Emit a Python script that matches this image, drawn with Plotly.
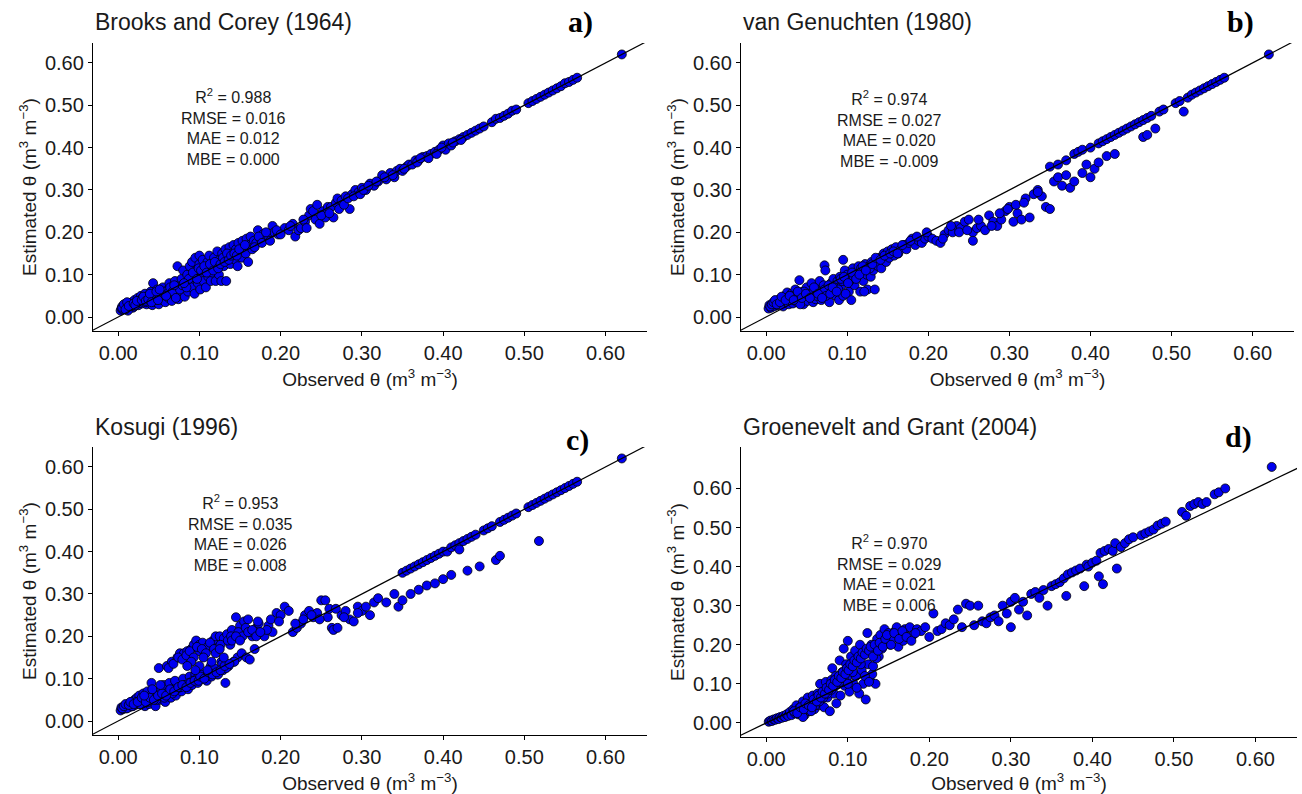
import plotly.graph_objects as go

# ---------------- data ----------------
panel_titles = ["Brooks and Corey (1964)", "van Genuchten (1980)",
                "Kosugi (1996)", "Groenevelt and Grant (2004)"]
panel_tags = ["a)", "b)", "c)", "d)"]
r2_values = ["0.988", "0.974", "0.953", "0.970"]
rmse_values = ["0.016", "0.027", "0.035", "0.029"]
mae_values = ["0.012", "0.020", "0.026", "0.021"]
mbe_values = ["0.000", "-0.009", "0.008", "0.006"]
tick_values = [0.0, 0.1, 0.2, 0.3, 0.4, 0.5, 0.6]
tick_labels = ["0.00", "0.10", "0.20", "0.30", "0.40", "0.50", "0.60"]

# a) Brooks and Corey
bc_obs = [0.003, 0.004, 0.005, 0.006, 0.008, 0.010, 0.012, 0.014, 0.015, 0.017,
          0.018, 0.020, 0.022, 0.024, 0.025, 0.027, 0.028, 0.030, 0.032, 0.033,
          0.035, 0.036, 0.038, 0.040, 0.040, 0.042, 0.043, 0.044, 0.046, 0.048,
          0.050, 0.050, 0.052, 0.054, 0.055, 0.057, 0.058, 0.060, 0.062, 0.063,
          0.065, 0.066, 0.068, 0.070, 0.070, 0.072, 0.073, 0.074, 0.075, 0.077,
          0.078, 0.080, 0.080, 0.082, 0.083, 0.085, 0.086, 0.088, 0.089, 0.090,
          0.091, 0.093, 0.094, 0.095, 0.096, 0.098, 0.100, 0.100, 0.101, 0.103,
          0.104, 0.105, 0.107, 0.108, 0.110, 0.111, 0.112, 0.114, 0.115, 0.116,
          0.118, 0.120, 0.121, 0.122, 0.124, 0.125, 0.127, 0.128, 0.130, 0.132,
          0.133, 0.135, 0.137, 0.138, 0.140, 0.142, 0.144, 0.145, 0.147, 0.148,
          0.150, 0.152, 0.153, 0.155, 0.157, 0.158, 0.160, 0.161, 0.163, 0.165,
          0.167, 0.170, 0.172, 0.175, 0.178, 0.180, 0.185, 0.190, 0.192, 0.197,
          0.205, 0.210, 0.215, 0.218, 0.222, 0.225, 0.230, 0.235, 0.237, 0.240,
          0.243, 0.245, 0.248, 0.252, 0.255, 0.258, 0.262, 0.265, 0.268, 0.270,
          0.275, 0.280, 0.285, 0.288, 0.292, 0.296, 0.300, 0.305, 0.310, 0.315,
          0.320, 0.325, 0.330, 0.335, 0.340, 0.343, 0.347, 0.350, 0.355, 0.358,
          0.362, 0.366, 0.370, 0.375, 0.380, 0.385, 0.390, 0.395, 0.400, 0.403,
          0.407, 0.410, 0.415, 0.420, 0.425, 0.430, 0.435, 0.440, 0.445, 0.450,
          0.460, 0.465, 0.470, 0.475, 0.480, 0.485, 0.490, 0.505, 0.510, 0.515,
          0.520, 0.525, 0.530, 0.535, 0.540, 0.545, 0.550, 0.555, 0.560, 0.565,
          0.620, 0.008, 0.012, 0.016, 0.020, 0.026, 0.030, 0.034, 0.038, 0.045,
          0.053, 0.056, 0.061, 0.064, 0.067, 0.071, 0.076, 0.079, 0.084, 0.087,
          0.092, 0.097, 0.099, 0.102, 0.106, 0.109, 0.113, 0.117, 0.119, 0.123,
          0.126, 0.129, 0.131, 0.134, 0.136, 0.139, 0.143, 0.146, 0.149, 0.156,
          0.005, 0.007, 0.009, 0.011, 0.013, 0.019, 0.021, 0.023, 0.029, 0.031,
          0.034, 0.037, 0.039, 0.041, 0.047, 0.049, 0.051, 0.059, 0.069, 0.081,
          0.168, 0.173, 0.177, 0.182, 0.187, 0.195, 0.200, 0.212, 0.228, 0.232,
          0.250, 0.260, 0.272, 0.278, 0.283, 0.290, 0.298, 0.302, 0.308, 0.318,
          0.328, 0.338, 0.352, 0.368, 0.372, 0.382, 0.392, 0.398, 0.412, 0.422]
bc_est = [0.015, 0.020, 0.025, 0.018, 0.022, 0.028, 0.020, 0.030, 0.025, 0.035,
          0.022, 0.040, 0.030, 0.045, 0.028, 0.038, 0.050, 0.032, 0.042, 0.055,
          0.030, 0.048, 0.038, 0.060, 0.045, 0.028, 0.080, 0.052, 0.035, 0.065,
          0.045, 0.030, 0.058, 0.040, 0.070, 0.050, 0.035, 0.062, 0.045, 0.080,
          0.055, 0.038, 0.070, 0.050, 0.085, 0.060, 0.120, 0.042, 0.075, 0.055,
          0.090, 0.065, 0.110, 0.048, 0.080, 0.100, 0.060, 0.120, 0.085, 0.070,
          0.130, 0.095, 0.055, 0.140, 0.110, 0.080, 0.125, 0.145, 0.065, 0.100,
          0.135, 0.085, 0.115, 0.070, 0.130, 0.095, 0.145, 0.085, 0.120, 0.105,
          0.140, 0.085, 0.125, 0.155, 0.100, 0.135, 0.085, 0.150, 0.120, 0.160,
          0.085, 0.140, 0.165, 0.125, 0.150, 0.170, 0.135, 0.160, 0.120, 0.175,
          0.155, 0.140, 0.180, 0.165, 0.150, 0.185, 0.130, 0.170, 0.190, 0.160,
          0.180, 0.175, 0.205, 0.185, 0.195, 0.190, 0.190, 0.215, 0.200, 0.195,
          0.210, 0.205, 0.220, 0.190, 0.205, 0.210, 0.225, 0.240, 0.255, 0.250,
          0.230, 0.265, 0.220, 0.250, 0.235, 0.260, 0.260, 0.235, 0.270, 0.280,
          0.275, 0.285, 0.255, 0.290, 0.300, 0.295, 0.305, 0.300, 0.315, 0.310,
          0.320, 0.335, 0.325, 0.340, 0.330, 0.345, 0.350, 0.345, 0.355, 0.360,
          0.360, 0.370, 0.370, 0.378, 0.380, 0.385, 0.390, 0.395, 0.405, 0.395,
          0.410, 0.405, 0.415, 0.420, 0.425, 0.430, 0.435, 0.440, 0.445, 0.450,
          0.460, 0.468, 0.470, 0.475, 0.480, 0.487, 0.490, 0.505, 0.510, 0.515,
          0.520, 0.525, 0.530, 0.535, 0.540, 0.545, 0.552, 0.555, 0.560, 0.565,
          0.620, 0.030, 0.015, 0.027, 0.025, 0.033, 0.045, 0.035, 0.050, 0.040,
          0.050, 0.060, 0.055, 0.070, 0.060, 0.045, 0.065, 0.075, 0.070, 0.090,
          0.105, 0.090, 0.115, 0.110, 0.120, 0.105, 0.125, 0.110, 0.130, 0.115,
          0.125, 0.140, 0.130, 0.150, 0.135, 0.145, 0.150, 0.145, 0.160, 0.170,
          0.022, 0.030, 0.018, 0.035, 0.026, 0.032, 0.028, 0.038, 0.040, 0.048,
          0.038, 0.042, 0.055, 0.035, 0.060, 0.040, 0.065, 0.050, 0.075, 0.080,
          0.165, 0.190, 0.175, 0.200, 0.180, 0.205, 0.195, 0.215, 0.230, 0.210,
          0.240, 0.245, 0.255, 0.265, 0.280, 0.285, 0.290, 0.300, 0.310, 0.320,
          0.330, 0.335, 0.350, 0.365, 0.375, 0.375, 0.385, 0.400, 0.412, 0.418]

# b) van Genuchten
vg_obs = [0.003, 0.004, 0.006, 0.008, 0.010, 0.012, 0.014, 0.016, 0.018, 0.020,
          0.021, 0.023, 0.025, 0.026, 0.028, 0.030, 0.031, 0.033, 0.035, 0.036,
          0.038, 0.040, 0.041, 0.043, 0.045, 0.046, 0.048, 0.050, 0.051, 0.053,
          0.055, 0.056, 0.058, 0.060, 0.061, 0.063, 0.065, 0.066, 0.068, 0.070,
          0.071, 0.072, 0.073, 0.075, 0.076, 0.078, 0.080, 0.081, 0.083, 0.085,
          0.086, 0.088, 0.090, 0.091, 0.093, 0.095, 0.095, 0.097, 0.099, 0.100,
          0.102, 0.104, 0.105, 0.107, 0.109, 0.110, 0.112, 0.114, 0.116, 0.118,
          0.120, 0.122, 0.124, 0.125, 0.127, 0.129, 0.130, 0.132, 0.134, 0.136,
          0.138, 0.140, 0.142, 0.145, 0.148, 0.150, 0.152, 0.155, 0.158, 0.160,
          0.163, 0.166, 0.170, 0.173, 0.176, 0.180, 0.184, 0.188, 0.192, 0.196,
          0.200, 0.205, 0.210, 0.215, 0.220, 0.225, 0.230, 0.235, 0.240, 0.245,
          0.250, 0.255, 0.255, 0.260, 0.265, 0.270, 0.275, 0.280, 0.285, 0.290,
          0.295, 0.300, 0.305, 0.310, 0.315, 0.320, 0.325, 0.330, 0.335, 0.340,
          0.345, 0.350, 0.350, 0.355, 0.360, 0.360, 0.365, 0.370, 0.370, 0.375,
          0.380, 0.380, 0.385, 0.390, 0.390, 0.395, 0.400, 0.400, 0.405, 0.410,
          0.410, 0.415, 0.420, 0.420, 0.425, 0.430, 0.430, 0.435, 0.440, 0.445,
          0.450, 0.455, 0.460, 0.465, 0.465, 0.470, 0.470, 0.475, 0.480, 0.485,
          0.490, 0.505, 0.510, 0.515, 0.520, 0.525, 0.530, 0.535, 0.540, 0.545,
          0.550, 0.555, 0.560, 0.565, 0.620, 0.010, 0.015, 0.022, 0.027, 0.032,
          0.037, 0.042, 0.047, 0.052, 0.057, 0.062, 0.067, 0.072, 0.074, 0.079,
          0.084, 0.089, 0.094, 0.098, 0.103, 0.108, 0.113, 0.117, 0.121, 0.128,
          0.005, 0.007, 0.009, 0.011, 0.013, 0.017, 0.019, 0.024, 0.029, 0.034,
          0.039, 0.044, 0.049, 0.054, 0.059, 0.064, 0.069, 0.077, 0.082, 0.087,
          0.092, 0.096, 0.101, 0.106, 0.111, 0.115, 0.119, 0.123, 0.131, 0.135,
          0.141, 0.146, 0.153, 0.157, 0.162, 0.168, 0.178, 0.186, 0.198, 0.218,
          0.228, 0.238, 0.248, 0.262, 0.278, 0.288, 0.298, 0.308, 0.318, 0.335]
vg_est = [0.020, 0.028, 0.022, 0.032, 0.025, 0.035, 0.028, 0.040, 0.030, 0.045,
          0.025, 0.050, 0.035, 0.058, 0.030, 0.042, 0.055, 0.032, 0.048, 0.065,
          0.035, 0.052, 0.087, 0.040, 0.060, 0.030, 0.045, 0.070, 0.038, 0.055,
          0.048, 0.080, 0.035, 0.060, 0.042, 0.068, 0.050, 0.085, 0.040, 0.062,
          0.075, 0.122, 0.110, 0.050, 0.068, 0.035, 0.080, 0.058, 0.090, 0.070,
          0.050, 0.085, 0.040, 0.095, 0.075, 0.135, 0.050, 0.110, 0.085, 0.100,
          0.060, 0.090, 0.040, 0.115, 0.075, 0.105, 0.095, 0.120, 0.060, 0.110,
          0.085, 0.125, 0.100, 0.065, 0.120, 0.095, 0.130, 0.110, 0.065, 0.125,
          0.120, 0.140, 0.115, 0.150, 0.130, 0.155, 0.140, 0.160, 0.145, 0.165,
          0.150, 0.160, 0.170, 0.160, 0.175, 0.185, 0.170, 0.180, 0.175, 0.185,
          0.190, 0.185, 0.180, 0.175, 0.195, 0.205, 0.200, 0.215, 0.210, 0.225,
          0.230, 0.200, 0.180, 0.210, 0.215, 0.205, 0.240, 0.225, 0.215, 0.230,
          0.250, 0.260, 0.225, 0.245, 0.230, 0.280, 0.235, 0.290, 0.300, 0.285,
          0.260, 0.355, 0.255, 0.320, 0.360, 0.330, 0.310, 0.370, 0.335, 0.305,
          0.385, 0.320, 0.390, 0.395, 0.340, 0.360, 0.400, 0.330, 0.350, 0.410,
          0.365, 0.415, 0.420, 0.380, 0.425, 0.430, 0.385, 0.435, 0.440, 0.445,
          0.450, 0.455, 0.460, 0.465, 0.425, 0.470, 0.430, 0.475, 0.445, 0.485,
          0.490, 0.505, 0.510, 0.485, 0.518, 0.525, 0.530, 0.535, 0.540, 0.545,
          0.550, 0.555, 0.560, 0.565, 0.620, 0.030, 0.040, 0.045, 0.045, 0.050,
          0.045, 0.030, 0.060, 0.050, 0.055, 0.050, 0.060, 0.065, 0.050, 0.055,
          0.070, 0.065, 0.085, 0.055, 0.085, 0.095, 0.100, 0.115, 0.060, 0.115,
          0.025, 0.030, 0.035, 0.040, 0.030, 0.035, 0.048, 0.040, 0.050, 0.040,
          0.060, 0.045, 0.055, 0.045, 0.070, 0.055, 0.045, 0.075, 0.070, 0.060,
          0.090, 0.095, 0.080, 0.105, 0.090, 0.100, 0.120, 0.110, 0.125, 0.140,
          0.135, 0.145, 0.150, 0.155, 0.150, 0.170, 0.180, 0.190, 0.200, 0.185,
          0.215, 0.200, 0.205, 0.230, 0.215, 0.245, 0.255, 0.265, 0.270, 0.295]

# c) Kosugi
ko_obs = [0.003, 0.004, 0.006, 0.008, 0.010, 0.012, 0.014, 0.016, 0.018, 0.020,
          0.021, 0.023, 0.025, 0.026, 0.028, 0.030, 0.031, 0.033, 0.035, 0.036,
          0.038, 0.040, 0.041, 0.043, 0.045, 0.046, 0.048, 0.050, 0.051, 0.053,
          0.055, 0.056, 0.058, 0.060, 0.061, 0.063, 0.065, 0.066, 0.068, 0.070,
          0.071, 0.073, 0.075, 0.076, 0.078, 0.080, 0.081, 0.083, 0.085, 0.086,
          0.088, 0.090, 0.091, 0.093, 0.095, 0.096, 0.098, 0.100, 0.100, 0.102,
          0.104, 0.105, 0.107, 0.109, 0.110, 0.112, 0.114, 0.115, 0.117, 0.119,
          0.120, 0.122, 0.124, 0.125, 0.127, 0.129, 0.130, 0.132, 0.134, 0.136,
          0.138, 0.140, 0.142, 0.145, 0.147, 0.150, 0.152, 0.155, 0.158, 0.160,
          0.162, 0.165, 0.168, 0.170, 0.173, 0.176, 0.180, 0.185, 0.190, 0.195,
          0.200, 0.205, 0.210, 0.215, 0.220, 0.225, 0.230, 0.235, 0.240, 0.245,
          0.250, 0.255, 0.258, 0.260, 0.263, 0.265, 0.270, 0.275, 0.280, 0.285,
          0.290, 0.295, 0.300, 0.305, 0.310, 0.315, 0.320, 0.330, 0.340, 0.345,
          0.350, 0.350, 0.355, 0.360, 0.360, 0.365, 0.370, 0.370, 0.375, 0.380,
          0.380, 0.385, 0.390, 0.390, 0.395, 0.400, 0.400, 0.405, 0.410, 0.410,
          0.415, 0.420, 0.420, 0.425, 0.430, 0.430, 0.435, 0.440, 0.445, 0.450,
          0.455, 0.460, 0.465, 0.470, 0.470, 0.475, 0.480, 0.485, 0.490, 0.505,
          0.510, 0.515, 0.518, 0.520, 0.525, 0.530, 0.535, 0.540, 0.545, 0.550,
          0.555, 0.560, 0.565, 0.620, 0.011, 0.017, 0.022, 0.027, 0.032, 0.037,
          0.042, 0.047, 0.052, 0.057, 0.062, 0.067, 0.072, 0.077, 0.082, 0.087,
          0.092, 0.097, 0.103, 0.108, 0.113, 0.118, 0.123, 0.128, 0.133, 0.143,
          0.005, 0.007, 0.009, 0.013, 0.015, 0.019, 0.024, 0.029, 0.034, 0.039,
          0.044, 0.049, 0.054, 0.059, 0.064, 0.069, 0.074, 0.079, 0.084, 0.089,
          0.094, 0.099, 0.101, 0.106, 0.111, 0.116, 0.121, 0.126, 0.131, 0.137,
          0.062, 0.068, 0.074, 0.079, 0.084, 0.088, 0.093, 0.097, 0.103, 0.108,
          0.113, 0.118, 0.126, 0.135, 0.139, 0.148, 0.153, 0.157, 0.163, 0.172,
          0.183, 0.188, 0.198, 0.218, 0.228, 0.238, 0.248, 0.268, 0.278, 0.295,
          0.090, 0.100, 0.105, 0.115, 0.120, 0.125, 0.130, 0.110, 0.095, 0.085,
          0.140, 0.145, 0.150, 0.160, 0.165, 0.170, 0.175, 0.032, 0.042, 0.052]
ko_est = [0.025, 0.032, 0.028, 0.036, 0.030, 0.040, 0.033, 0.045, 0.035, 0.050,
          0.038, 0.055, 0.040, 0.060, 0.042, 0.048, 0.065, 0.035, 0.055, 0.070,
          0.040, 0.060, 0.090, 0.045, 0.065, 0.035, 0.070, 0.125, 0.050, 0.075,
          0.060, 0.085, 0.045, 0.130, 0.065, 0.090, 0.055, 0.140, 0.075, 0.095,
          0.060, 0.150, 0.080, 0.160, 0.070, 0.100, 0.160, 0.085, 0.165, 0.075,
          0.105, 0.170, 0.085, 0.180, 0.110, 0.190, 0.090, 0.180, 0.165, 0.100,
          0.185, 0.110, 0.160, 0.095, 0.175, 0.120, 0.130, 0.105, 0.190, 0.115,
          0.200, 0.110, 0.175, 0.200, 0.140, 0.120, 0.195, 0.090, 0.205, 0.130,
          0.180, 0.215, 0.140, 0.245, 0.150, 0.225, 0.160, 0.235, 0.150, 0.240,
          0.145, 0.200, 0.170, 0.220, 0.230, 0.205, 0.200, 0.225, 0.210, 0.255,
          0.250, 0.270, 0.260, 0.210, 0.220, 0.230, 0.250, 0.260, 0.245, 0.255,
          0.285, 0.285, 0.245, 0.265, 0.220, 0.215, 0.220, 0.250, 0.260, 0.240,
          0.235, 0.270, 0.260, 0.270, 0.250, 0.280, 0.290, 0.280, 0.300, 0.270,
          0.350, 0.285, 0.355, 0.360, 0.300, 0.365, 0.370, 0.310, 0.375, 0.380,
          0.320, 0.385, 0.390, 0.325, 0.395, 0.400, 0.335, 0.400, 0.410, 0.345,
          0.415, 0.420, 0.405, 0.425, 0.430, 0.355, 0.435, 0.440, 0.365, 0.450,
          0.455, 0.460, 0.380, 0.470, 0.390, 0.475, 0.480, 0.485, 0.490, 0.505,
          0.510, 0.515, 0.425, 0.520, 0.525, 0.530, 0.535, 0.540, 0.545, 0.550,
          0.555, 0.560, 0.565, 0.620, 0.030, 0.035, 0.045, 0.040, 0.050, 0.045,
          0.055, 0.050, 0.060, 0.055, 0.070, 0.065, 0.075, 0.080, 0.085, 0.090,
          0.095, 0.100, 0.110, 0.105, 0.120, 0.125, 0.110, 0.135, 0.125, 0.140,
          0.030, 0.035, 0.040, 0.038, 0.045, 0.040, 0.045, 0.055, 0.045, 0.055,
          0.050, 0.060, 0.065, 0.060, 0.075, 0.070, 0.080, 0.085, 0.080, 0.090,
          0.095, 0.095, 0.105, 0.100, 0.115, 0.110, 0.115, 0.120, 0.130, 0.135,
          0.125, 0.135, 0.150, 0.145, 0.155, 0.165, 0.150, 0.175, 0.170, 0.160,
          0.185, 0.170, 0.180, 0.190, 0.200, 0.210, 0.200, 0.220, 0.210, 0.235,
          0.215, 0.240, 0.235, 0.230, 0.240, 0.250, 0.240, 0.265, 0.245, 0.255,
          0.140, 0.130, 0.150, 0.140, 0.160, 0.170, 0.150, 0.120, 0.120, 0.130,
          0.190, 0.200, 0.190, 0.210, 0.215, 0.200, 0.210, 0.060, 0.075, 0.085]

# d) Groenevelt and Grant
gg_obs = [0.003, 0.005, 0.007, 0.009, 0.011, 0.013, 0.015, 0.017, 0.019, 0.021,
          0.023, 0.025, 0.027, 0.029, 0.031, 0.033, 0.035, 0.037, 0.039, 0.041,
          0.043, 0.045, 0.047, 0.049, 0.051, 0.053, 0.055, 0.057, 0.059, 0.061,
          0.063, 0.065, 0.066, 0.068, 0.070, 0.071, 0.073, 0.075, 0.076, 0.078,
          0.080, 0.081, 0.083, 0.085, 0.086, 0.088, 0.090, 0.091, 0.093, 0.095,
          0.096, 0.098, 0.100, 0.100, 0.102, 0.104, 0.105, 0.107, 0.109, 0.110,
          0.112, 0.114, 0.115, 0.117, 0.119, 0.120, 0.122, 0.124, 0.125, 0.127,
          0.129, 0.130, 0.132, 0.134, 0.136, 0.138, 0.140, 0.142, 0.145, 0.147,
          0.150, 0.152, 0.155, 0.158, 0.160, 0.162, 0.165, 0.168, 0.170, 0.173,
          0.176, 0.180, 0.185, 0.190, 0.195, 0.200, 0.205, 0.210, 0.215, 0.220,
          0.225, 0.230, 0.235, 0.240, 0.245, 0.250, 0.255, 0.260, 0.265, 0.270,
          0.275, 0.280, 0.285, 0.290, 0.295, 0.300, 0.300, 0.305, 0.310, 0.315,
          0.320, 0.325, 0.330, 0.335, 0.340, 0.345, 0.350, 0.355, 0.360, 0.365,
          0.368, 0.370, 0.375, 0.380, 0.385, 0.390, 0.393, 0.395, 0.400, 0.405,
          0.408, 0.410, 0.413, 0.415, 0.420, 0.425, 0.428, 0.430, 0.435, 0.440,
          0.445, 0.450, 0.460, 0.465, 0.470, 0.475, 0.480, 0.485, 0.490, 0.510,
          0.515, 0.520, 0.525, 0.530, 0.535, 0.540, 0.550, 0.555, 0.563, 0.620,
          0.040, 0.045, 0.050, 0.055, 0.060, 0.065, 0.070, 0.075, 0.080, 0.085,
          0.090, 0.095, 0.100, 0.106, 0.111, 0.116, 0.121, 0.126, 0.131, 0.135,
          0.034, 0.038, 0.042, 0.046, 0.048, 0.052, 0.056, 0.058, 0.062, 0.064,
          0.067, 0.069, 0.072, 0.074, 0.077, 0.079, 0.082, 0.084, 0.087, 0.089,
          0.092, 0.094, 0.097, 0.099, 0.101, 0.103, 0.106, 0.108, 0.111, 0.113,
          0.116, 0.118, 0.121, 0.123, 0.126, 0.128, 0.131, 0.133, 0.137, 0.139,
          0.143, 0.146, 0.148, 0.153, 0.157, 0.163, 0.167, 0.172, 0.178, 0.183]
gg_est = [0.003, 0.006, 0.005, 0.009, 0.008, 0.012, 0.010, 0.015, 0.013, 0.018,
          0.015, 0.022, 0.018, 0.028, 0.020, 0.035, 0.025, 0.045, 0.022, 0.040,
          0.030, 0.055, 0.020, 0.045, 0.065, 0.030, 0.050, 0.070, 0.035, 0.060,
          0.075, 0.045, 0.100, 0.060, 0.080, 0.040, 0.105, 0.065, 0.090, 0.030,
          0.110, 0.140, 0.075, 0.120, 0.050, 0.100, 0.160, 0.070, 0.130, 0.190,
          0.095, 0.150, 0.210, 0.120, 0.080, 0.170, 0.140, 0.100, 0.185, 0.120,
          0.160, 0.075, 0.200, 0.135, 0.100, 0.175, 0.060, 0.230, 0.150, 0.110,
          0.200, 0.125, 0.180, 0.100, 0.215, 0.170, 0.225, 0.190, 0.240, 0.210,
          0.230, 0.200, 0.215, 0.235, 0.245, 0.195, 0.225, 0.210, 0.240, 0.220,
          0.245, 0.225, 0.240, 0.235, 0.245, 0.220, 0.280, 0.235, 0.240, 0.255,
          0.250, 0.265, 0.290, 0.245, 0.305, 0.300, 0.250, 0.300, 0.260, 0.255,
          0.270, 0.275, 0.260, 0.300, 0.280, 0.310, 0.245, 0.320, 0.290, 0.310,
          0.275, 0.330, 0.335, 0.320, 0.340, 0.300, 0.350, 0.355, 0.360, 0.370,
          0.325, 0.380, 0.385, 0.390, 0.395, 0.350, 0.405, 0.400, 0.410, 0.415,
          0.375, 0.435, 0.355, 0.440, 0.445, 0.440, 0.460, 0.395, 0.450, 0.460,
          0.470, 0.475, 0.480, 0.485, 0.490, 0.495, 0.505, 0.510, 0.515, 0.540,
          0.530, 0.555, 0.560, 0.565, 0.560, 0.565, 0.585, 0.590, 0.600, 0.655,
          0.025, 0.015, 0.035, 0.030, 0.045, 0.055, 0.065, 0.075, 0.085, 0.095,
          0.105, 0.115, 0.100, 0.130, 0.090, 0.150, 0.120, 0.105, 0.145, 0.165,
          0.030, 0.025, 0.040, 0.035, 0.050, 0.045, 0.040, 0.060, 0.055, 0.070,
          0.065, 0.080, 0.075, 0.090, 0.085, 0.100, 0.095, 0.110, 0.105, 0.120,
          0.115, 0.130, 0.125, 0.140, 0.135, 0.150, 0.145, 0.160, 0.155, 0.170,
          0.165, 0.180, 0.175, 0.190, 0.185, 0.195, 0.170, 0.200, 0.185, 0.205,
          0.195, 0.215, 0.225, 0.200, 0.230, 0.215, 0.235, 0.220, 0.210, 0.230]

observed_sets = [bc_obs, vg_obs, ko_obs, gg_obs]
estimated_sets = [bc_est, vg_est, ko_est, gg_est]

# ---------------- layout geometry ----------------
W, H = 1302, 794
x_domains = [(93, 647), (741, 1294), (93, 647), (741, 1297)]
y_domains = [(43, 331), (43, 331), (447, 735), (447, 737)]
x_ranges = [(-0.031, 0.651)] * 4
y_ranges = [(-0.033, 0.647), (-0.033, 0.647), (-0.033, 0.647), (-0.036, 0.706)]
stat_pos = [(0.142, 0.449), (0.152, 0.445), (0.150, 0.444), (0.151, 0.384)]
title_y = [22, 22, 427, 427]
tag_xy = [(580, 22), (1240, 22), (577, 440), (1238, 437)]

FONT = "Liberation Sans, Arial, sans-serif"

fig = go.Figure()
layout = {}
annotations = []
for i in range(4):
    sfx = "" if i == 0 else str(i + 1)
    xa, ya = "x" + sfx, "y" + sfx
    x0, x1 = x_domains[i]
    yt, yb = y_domains[i]
    fig.add_trace(go.Scatter(
        x=observed_sets[i], y=estimated_sets[i], mode="markers", xaxis=xa, yaxis=ya,
        marker=dict(size=9, color="#0000f0", line=dict(color="black", width=0.8)),
        showlegend=False, hoverinfo="skip"))
    fig.add_trace(go.Scatter(
        x=[-0.1, 0.8], y=[-0.1, 0.8], mode="lines", xaxis=xa, yaxis=ya,
        line=dict(color="black", width=1.2), showlegend=False, hoverinfo="skip"))
    common = dict(showgrid=False, zeroline=False, showline=True, linecolor="black",
                  linewidth=1.3, ticks="outside", ticklen=4, tickcolor="black",
                  tickvals=tick_values, ticktext=tick_labels,
                  tickfont=dict(family=FONT, size=20, color="#1a1a1a"))
    layout["xaxis" + sfx] = dict(
        common, domain=[x0 / W, x1 / W], range=list(x_ranges[i]), anchor=ya,
        title=dict(text="Observed θ (m<sup>3</sup> m<sup>−3</sup>)",
                   font=dict(family=FONT, size=19, color="#1a1a1a"), standoff=9))
    layout["yaxis" + sfx] = dict(
        common, domain=[1 - yb / H, 1 - yt / H], range=list(y_ranges[i]), anchor=xa,
        title=dict(text="Estimated θ (m<sup>3</sup> m<sup>−3</sup>)",
                   font=dict(family=FONT, size=19, color="#1a1a1a"), standoff=3))
    annotations.append(dict(
        text=panel_titles[i], xref="paper", yref="paper", x=x0 / W, y=1 - title_y[i] / H,
        xanchor="left", yanchor="middle", showarrow=False,
        font=dict(family=FONT, size=23, color="#1a1a1a")))
    tx, ty = tag_xy[i]
    annotations.append(dict(
        text="<b>" + panel_tags[i] + "</b>", xref="paper", yref="paper",
        x=tx / W, y=1 - ty / H, xanchor="center", yanchor="middle",
        showarrow=False,
        font=dict(family="Liberation Serif, Times New Roman, serif", size=30, color="black")))
    sx, sy = stat_pos[i]
    annotations.append(dict(
        text=("R<sup>2</sup> = " + r2_values[i] + "<br>RMSE = " + rmse_values[i] +
              "<br>MAE = " + mae_values[i] + "<br>MBE = " + mbe_values[i]),
        xref=xa, yref=ya, x=sx, y=sy, xanchor="center", yanchor="middle",
        align="center", showarrow=False,
        font=dict(family=FONT, size=16, color="#1a1a1a")))

fig.update_layout(width=W, height=H, margin=dict(l=0, r=0, t=0, b=0),
                  paper_bgcolor="white", plot_bgcolor="white",
                  annotations=annotations, showlegend=False, **layout)
fig.write_html("out.html")
